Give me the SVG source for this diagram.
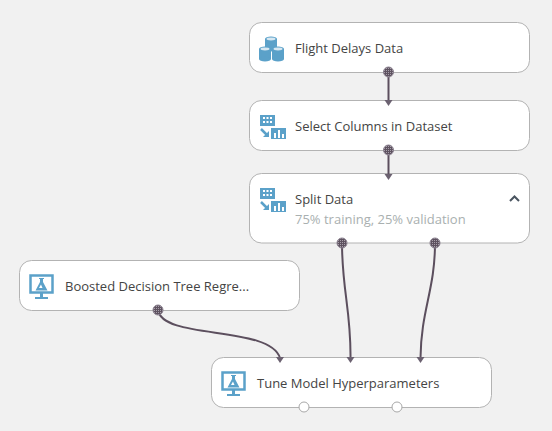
<svg xmlns="http://www.w3.org/2000/svg" width="552" height="431" viewBox="0 0 552 431">
<style>
.box{fill:#fff;stroke:#b3b3b3;stroke-width:1}
.t{font:13px "Open Sans","Noto Sans",sans-serif;fill:#444}
.s{font:13px "Open Sans","Noto Sans",sans-serif;fill:#a9b0b0}
.c{fill:none;stroke:#5c4f5e;stroke-width:2}
.i{fill:#5ba1c9}
.w{fill:none;stroke:#5ba1c9;stroke-width:2.5}
.o{fill:url(#dots);stroke:#8b8290;stroke-width:1}
.in{fill:#6b6170}
.open{fill:#fff;stroke:#a8a8a8;stroke-width:1}
</style>
<defs>
<pattern id="dots" width="2" height="2" patternUnits="userSpaceOnUse"><rect width="2" height="2" fill="#5e5260"/><rect width="1" height="1" fill="#a79fa9"/></pattern>
<g id="db"><ellipse cx="0" cy="0" rx="6" ry="2.5" class="i"/><rect x="-6" width="12" height="10" class="i"/><ellipse cx="0" cy="10" rx="6" ry="2.5" class="i"/><ellipse cx="0" cy="0" rx="4.5" ry="1.4" fill="#d7e8f2"/></g>
<g id="split"><rect x="0" y="0" width="15" height="11" fill="#5ba1c9"/><g fill="#fff"><rect x="3" y="2" width="2" height="2"/><rect x="6.500" y="2" width="2" height="2"/><rect x="10" y="2" width="2" height="2"/><rect x="3" y="6" width="2" height="2"/><rect x="6.500" y="6" width="2" height="2"/><rect x="10" y="6" width="2" height="2"/></g><path d="M1 14L8 21" stroke="#5ba1c9" stroke-width="2.500" fill="none"/><path d="M9 16V22H3Z" fill="#5ba1c9"/><rect x="11" y="13" width="15" height="11" fill="#5ba1c9"/><g fill="#fff"><rect x="14" y="18" width="2" height="5"/><rect x="18" y="15" width="2" height="8"/><rect x="22" y="19" width="2" height="4"/></g></g>
<g id="model"><rect x="1.500" y="1.500" width="22" height="17" fill="#fff" stroke="#5ba1c9" stroke-width="2.500"/><path d="M10 4H15V5H14V8L18.500 16.500H6.500L11 8V5H10Z" fill="#5ba1c9"/><path d="M12 10.500L10 14H13.500Z" fill="#fff"/><rect x="11" y="19" width="3" height="4" fill="#5ba1c9"/><rect x="6" y="23" width="13" height="2" fill="#5ba1c9"/></g>
</defs>
<rect width="552" height="431" fill="#f1f1f1"/>
<g id="node-flight">
<rect class="box" x="249.500" y="22.500" width="280" height="50" rx="12"/>
<use href="#db" x="271" y="39"/><use href="#db" x="265" y="49"/><use href="#db" x="278" y="49"/>
<text class="t" x="295" y="53">Flight Delays Data</text>
</g>
<g id="node-select">
<rect class="box" x="249.500" y="100.500" width="280" height="50" rx="12"/>
<use href="#split" x="260" y="115"/>
<text class="t" x="295" y="131">Select Columns in Dataset</text>
</g>
<g id="node-split">
<rect class="box" x="249.500" y="173.500" width="280" height="69.500" rx="12"/>
<use href="#split" x="260" y="188"/>
<text class="t" x="295" y="204">Split Data</text>
<text class="s" x="295" y="224">75% training, 25% validation</text>
<path d="M510 201L514.500 196.500L519 201" fill="none" stroke="#4a5560" stroke-width="2"/>
</g>
<g id="node-boosted">
<rect class="box" x="19.500" y="260.500" width="280" height="50" rx="12"/>
<use href="#model" x="29" y="274"/>
<text class="t" x="65" y="291">Boosted Decision Tree Regre...</text>
</g>
<g id="node-tune">
<rect class="box" x="211.500" y="357.500" width="280" height="50" rx="12"/>
<use href="#model" x="221" y="371"/>
<text class="t" x="257" y="388">Tune Model Hyperparameters</text>
<circle class="open" cx="304" cy="407" r="5"/>
<circle class="open" cx="397" cy="407" r="5"/>
</g>
<g id="connectors">
<path class="c" d="M388.500 72V101"/>
<path class="c" d="M388.500 150V175"/>
<path class="c" d="M342 243C342 290 351 310 350.500 358"/>
<path class="c" d="M435 243C435 290 421 310 420.500 358"/>
<path class="c" d="M158 310C162 340 270 325 280 358"/>
<circle class="o" cx="388.500" cy="72" r="5"/>
<circle class="o" cx="388.500" cy="150" r="5"/>
<circle class="o" cx="342" cy="243" r="5"/>
<circle class="o" cx="435" cy="243" r="5"/>
<circle class="o" cx="158" cy="310" r="5"/>
<path class="in" d="M384.500 100H392.500L388.500 106Z"/>
<path class="in" d="M384.500 174H392.500L388.500 180Z"/>
<path class="in" d="M276 357H284L280 363Z"/>
<path class="in" d="M346.500 357H354.500L350.500 363Z"/>
<path class="in" d="M416.500 357H424.500L420.500 363Z"/>
</g>
</svg>
